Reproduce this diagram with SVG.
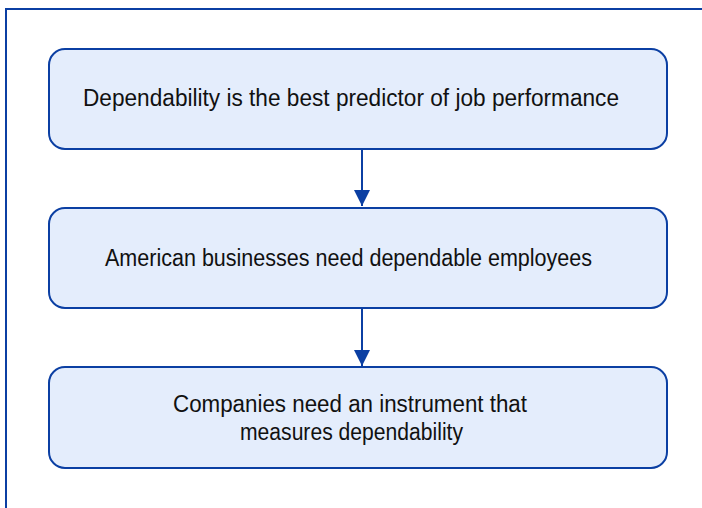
<svg xmlns="http://www.w3.org/2000/svg" width="702" height="508" viewBox="0 0 702 508">
<style>
.box{fill:#e4edfc;stroke:#0b3fa3;stroke-width:2}
.frame{fill:none;stroke:#0b3fa3;stroke-width:2}
.t{font-family:"Liberation Sans",Arial,sans-serif;font-size:23.5px;fill:#111;text-anchor:middle}
.c{stroke:#0b3fa3;stroke-width:2;fill:none}
</style>
<defs>
<marker id="ah" viewBox="0 0 16 16" refX="16" refY="8" markerWidth="16" markerHeight="16" markerUnits="userSpaceOnUse" orient="auto">
<path d="M0,0 L16,8 L0,16 Z" fill="#0b3fa3"/>
</marker>
</defs>
<rect width="702" height="508" fill="#fff"/>
<path class="frame" d="M6,508 V9 H702"/>
<g id="connectors">
<line class="c" x1="362" y1="150" x2="362" y2="206" marker-end="url(#ah)"/>
<line class="c" x1="362" y1="309" x2="362" y2="366" marker-end="url(#ah)"/>
</g>
<g id="node1">
<rect class="box" x="49" y="49" width="618" height="100" rx="16"/>
<text class="t" x="351" y="106" textLength="536" lengthAdjust="spacingAndGlyphs">Dependability is the best predictor of job performance</text>
</g>
<g id="node2">
<rect class="box" x="49" y="208" width="618" height="100" rx="16"/>
<text class="t" x="348.5" y="266" textLength="487" lengthAdjust="spacingAndGlyphs">American businesses need dependable employees</text>
</g>
<g id="node3">
<rect class="box" x="49" y="367" width="618" height="101" rx="16"/>
<text class="t" x="350" y="412" textLength="354" lengthAdjust="spacingAndGlyphs">Companies need an instrument that</text>
<text class="t" x="351.5" y="440" textLength="223" lengthAdjust="spacingAndGlyphs">measures dependability</text>
</g>
</svg>
